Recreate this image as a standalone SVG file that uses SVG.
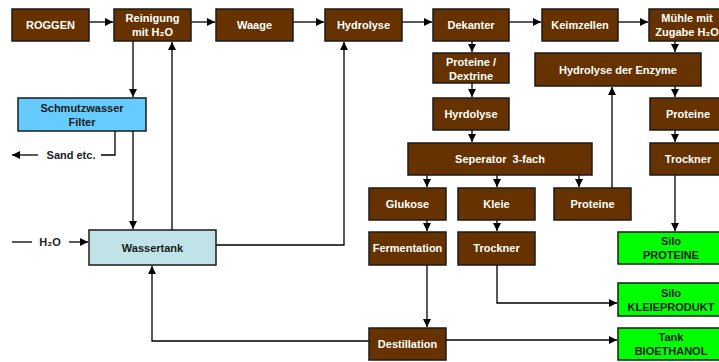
<svg xmlns="http://www.w3.org/2000/svg" width="719" height="362" viewBox="0 0 719 362">
  <style>
    .box rect { stroke: #1a1a1a; stroke-width: 1.5; }
    .proc rect { fill: #663300; }
    .proc text { fill: #ffffff; }
    .filter rect { fill: #66ccff; }
    .tank rect { fill: #bfe3e8; }
    .store rect { fill: #00ff00; }
    text { font-family: "Liberation Sans", Arial, sans-serif; font-size: 11px; font-weight: bold; text-anchor: middle; fill: #1a1a1a; }
    .conn path { fill: none; stroke: #000; stroke-width: 1.3; }
    .lbl { fill: #222; }
  </style>
  <defs>
    <marker id="arrow" markerUnits="userSpaceOnUse" markerWidth="9" markerHeight="9" refX="8" refY="4" orient="auto">
      <path d="M0,0 L8,4 L0,8 z" fill="#000"/>
    </marker>
  </defs>
  <rect width="719" height="362" fill="#ffffff"/>

  <!-- connectors -->
  <g id="connectors" class="conn">
    <path d="M89,22 H113" marker-end="url(#arrow)"/>
    <path d="M191,22 H215" marker-end="url(#arrow)"/>
    <path d="M293,22 H324" marker-end="url(#arrow)"/>
    <path d="M402,22 H432" marker-end="url(#arrow)"/>
    <path d="M509,22 H541" marker-end="url(#arrow)"/>
    <path d="M618,22 H648" marker-end="url(#arrow)"/>
    <path d="M133,41 V97" marker-end="url(#arrow)"/>
    <path d="M133,131 V229" marker-end="url(#arrow)"/>
    <path d="M172,230 V42" marker-end="url(#arrow)"/>
    <path d="M115,131 V155 H101"/>
    <path d="M38,155 H12" marker-end="url(#arrow)"/>
    <path d="M12,242 H32"/>
    <path d="M69,242 H88" marker-end="url(#arrow)"/>
    <path d="M216,245 H344 V42" marker-end="url(#arrow)"/>
    <path d="M369,341 H152 V266" marker-end="url(#arrow)"/>
    <path d="M472,41 V52" marker-end="url(#arrow)"/>
    <path d="M472,83 V97" marker-end="url(#arrow)"/>
    <path d="M472,130 V142" marker-end="url(#arrow)"/>
    <path d="M427,175 V187" marker-end="url(#arrow)"/>
    <path d="M497,175 V187" marker-end="url(#arrow)"/>
    <path d="M579,175 V187" marker-end="url(#arrow)"/>
    <path d="M612,188 V87" marker-end="url(#arrow)"/>
    <path d="M675,41 V52" marker-end="url(#arrow)"/>
    <path d="M675,86 V97" marker-end="url(#arrow)"/>
    <path d="M675,130 V142" marker-end="url(#arrow)"/>
    <path d="M675,175 V231" marker-end="url(#arrow)"/>
    <path d="M427,220 V231" marker-end="url(#arrow)"/>
    <path d="M497,220 V231" marker-end="url(#arrow)"/>
    <path d="M427,265 V327" marker-end="url(#arrow)"/>
    <path d="M497,265 V303 H617" marker-end="url(#arrow)"/>
    <path d="M446,340 H617" marker-end="url(#arrow)"/>
  </g>

  <!-- free labels -->
  <text class="lbl" x="71" y="159">Sand etc.</text>
  <text class="lbl" x="50" y="246">H₂O</text>

  <!-- nodes -->
  <g id="roggen" class="box proc"><rect x="12" y="9" width="77" height="32"/><text x="50.5" y="29">ROGGEN</text></g>
  <g id="reinigung" class="box proc"><rect x="114" y="9" width="77" height="32"/><text x="152.5" y="22">Reinigung</text><text x="152.5" y="36">mit H₂O</text></g>
  <g id="waage" class="box proc"><rect x="216" y="9" width="77" height="32"/><text x="254.5" y="29">Waage</text></g>
  <g id="hydrolyse" class="box proc"><rect x="325" y="9" width="77" height="32"/><text x="363.5" y="29">Hydrolyse</text></g>
  <g id="dekanter" class="box proc"><rect x="433" y="9" width="76" height="32"/><text x="471" y="29">Dekanter</text></g>
  <g id="keimzellen" class="box proc"><rect x="542" y="9" width="76" height="32"/><text x="580" y="29">Keimzellen</text></g>
  <g id="muehle" class="box proc"><rect x="649" y="9" width="76" height="32"/><text x="687" y="22">Mühle mit</text><text x="687" y="36">Zugabe H₂O</text></g>

  <g id="proteine-dextrine" class="box proc"><rect x="433" y="53" width="76" height="30"/><text x="471" y="66">Proteine /</text><text x="471" y="80">Dextrine</text></g>
  <g id="hydrolyse-enzyme" class="box proc"><rect x="535" y="53" width="166" height="33"/><text x="618" y="74">Hydrolyse der Enzyme</text></g>
  <g id="hyrdolyse" class="box proc"><rect x="433" y="98" width="76" height="32"/><text x="471" y="118">Hyrdolyse</text></g>
  <g id="proteine-rechts" class="box proc"><rect x="650" y="98" width="75" height="32"/><text x="688" y="118">Proteine</text></g>

  <g id="schmutzwasser" class="box filter"><rect x="18" y="98" width="128" height="33"/><text x="82" y="112">Schmutzwasser</text><text x="82" y="126">Filter</text></g>

  <g id="separator" class="box proc"><rect x="408" y="143" width="184" height="32"/><text x="500" y="163" xml:space="preserve">Seperator  3-fach</text></g>
  <g id="trockner-rechts" class="box proc"><rect x="650" y="143" width="75" height="32"/><text x="688" y="163">Trockner</text></g>

  <g id="glukose" class="box proc"><rect x="369" y="188" width="77" height="32"/><text x="407.5" y="208">Glukose</text></g>
  <g id="kleie" class="box proc"><rect x="458" y="188" width="77" height="32"/><text x="496.5" y="208">Kleie</text></g>
  <g id="proteine-mitte" class="box proc"><rect x="554" y="188" width="77" height="32"/><text x="592.5" y="208">Proteine</text></g>

  <g id="wassertank" class="box tank"><rect x="89" y="230" width="127" height="35"/><text x="152.5" y="252">Wassertank</text></g>
  <g id="fermentation" class="box proc"><rect x="369" y="232" width="77" height="33"/><text x="407.5" y="252">Fermentation</text></g>
  <g id="trockner-mitte" class="box proc"><rect x="458" y="232" width="77" height="33"/><text x="496.5" y="252">Trockner</text></g>
  <g id="silo-proteine" class="box store"><rect x="618" y="232" width="106" height="32"/><text x="671" y="245">Silo</text><text x="671" y="259">PROTEINE</text></g>
  <g id="silo-kleie" class="box store"><rect x="618" y="283" width="106" height="33"/><text x="671" y="297">Silo</text><text x="671" y="311">KLEIEPRODUKT</text></g>

  <g id="destillation" class="box proc"><rect x="369" y="328" width="77" height="32"/><text x="407.5" y="348">Destillation</text></g>
  <g id="tank-bioethanol" class="box store"><rect x="618" y="328" width="106" height="32"/><text x="671" y="341">Tank</text><text x="671" y="355">BIOETHANOL</text></g>
</svg>
